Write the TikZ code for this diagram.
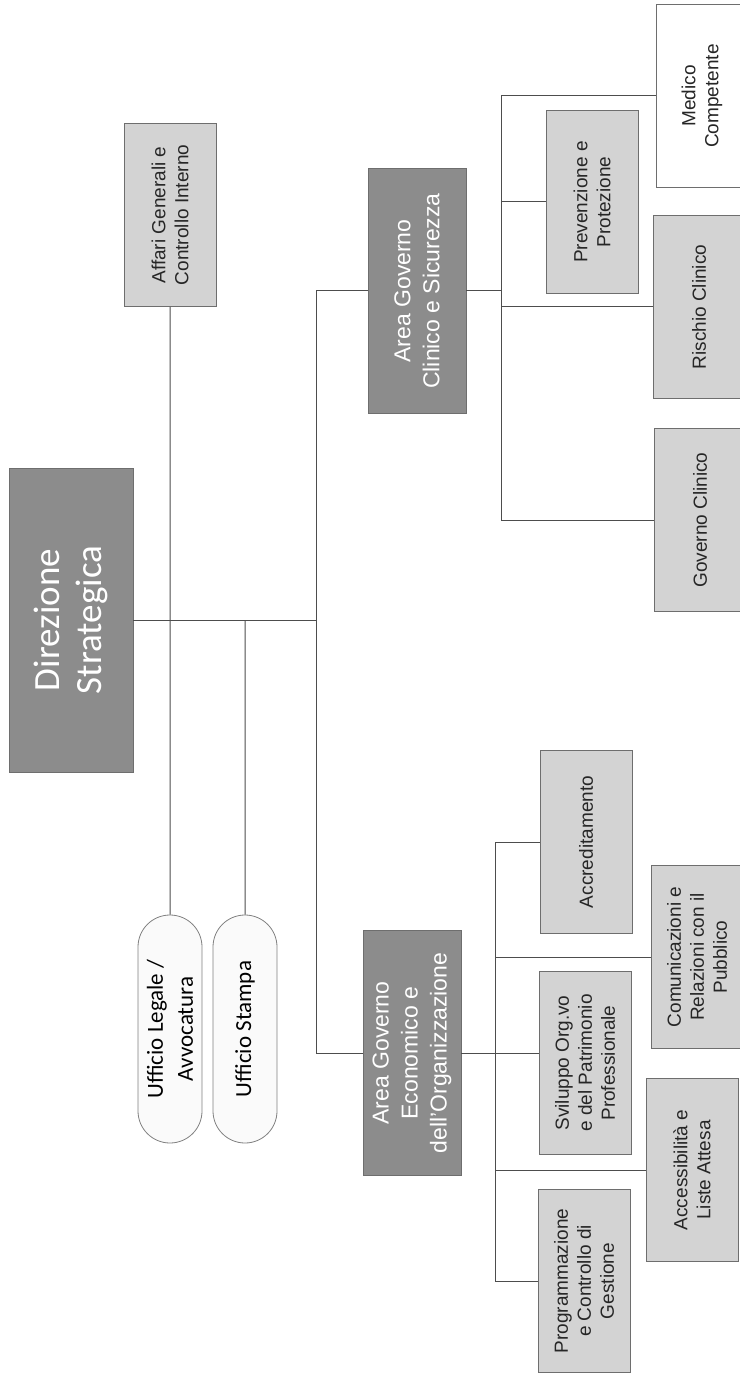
\documentclass[tikz,border=0pt]{standalone}
\usepackage{fontspec}
\setmainfont{Liberation Sans}
\newfontfamily\carlito{Carlito}
\usetikzlibrary{shapes.misc, calc}
\definecolor{darkbox}{HTML}{8C8C8C}
\definecolor{lightbox}{HTML}{D3D3D3}
\definecolor{edgegray}{HTML}{6E6E6E}
\definecolor{linegray}{HTML}{4D4D4D}

\begin{document}
\begin{tikzpicture}[
    x=0.5pt, y=-0.5pt,
    unitbox/.style={draw=edgegray, fill=lightbox, rotate=90, align=center, inner sep=2pt, minimum width=91.5pt, minimum height=46pt, font=\fontsize{9.5}{11.5}\selectfont, text=black!85},
    areabox/.style={draw=edgegray, fill=darkbox, rotate=90, align=center, minimum width=122.5pt, minimum height=49pt, text=white, font=\fontsize{11.5}{14.5}\selectfont},
    officebox/.style={draw=gray, fill=gray!4, rounded rectangle, rotate=90, align=center, minimum width=116pt, minimum height=32pt, inner sep=1pt, font=\carlito\fontsize{11.5}{15}\selectfont},
    link/.style={draw=linegray, line width=0.5pt},
]
\useasboundingbox (0,0) rectangle (739,1379);
\node[areabox, minimum width=152pt, minimum height=62pt, font=\carlito\fontsize{18.5}{21}\selectfont] (dir) at (71,620) {Direzione\\Strategica};
\node[unitbox] (affari) at (170,215) {Affari Generali e\\Controllo Interno};
\node[officebox] (ulegale) at (170,1029) {Ufficio Legale /\\Avvocatura};
\node[officebox] (ustampa) at (245,1029) {Ufficio Stampa};
\node[areabox] (agcs) at (417,291) {Area Governo\\Clinico e Sicurezza};
\node[areabox] (ageo) at (412,1053) {Area Governo\\Economico e\\dell'Organizzazione};
% area governo clinico
\node[unitbox, fill=white] (medico) at (702,96) {Medico\\Competente};
\node[unitbox] (prev) at (592,202) {Prevenzione e\\Protezione};
\node[unitbox] (rischio) at (699,307) {Rischio Clinico};
\node[unitbox] (govcl) at (700,520) {Governo Clinico};
% area governo economico
\node[unitbox] (accr) at (586,842) {Accreditamento};
\node[unitbox] (comun) at (697,957) {Comunicazioni e\\Relazioni con il\\Pubblico};
\node[unitbox] (svil) at (585,1063) {Sviluppo Org.vo\\e del Patrimonio\\Professionale};
\node[unitbox] (access) at (692,1170) {Accessibilit\`a e\\Liste Attesa};
\node[unitbox] (progr) at (584,1281) {Programmazione\\e Controllo di\\Gestione};
% collegamenti
\coordinate (spine) at (316,620);
\coordinate (busc) at (501,0);
\coordinate (buse) at (495,0);
\draw[link] (dir) -- (dir -| spine);
\draw[link] (affari) -- (ulegale);
\draw[link] (ustampa) -- (ustampa |- dir);
\draw[link] (agcs) -- (agcs -| spine) -- (ageo -| spine) -- (ageo);
\draw[link] (agcs) -- (agcs -| busc);
\draw[link] (medico -| busc) -- (govcl -| busc);
\foreach \n in {medico,prev,rischio,govcl}
    \draw[link] (\n -| busc) -- (\n);
\draw[link] (ageo) -- (ageo -| svil.north);
\draw[link] (accr -| buse) -- (progr -| buse);
\foreach \n in {accr,comun,access,progr}
    \draw[link] (\n -| buse) -- (\n);
\end{tikzpicture}
\end{document}
